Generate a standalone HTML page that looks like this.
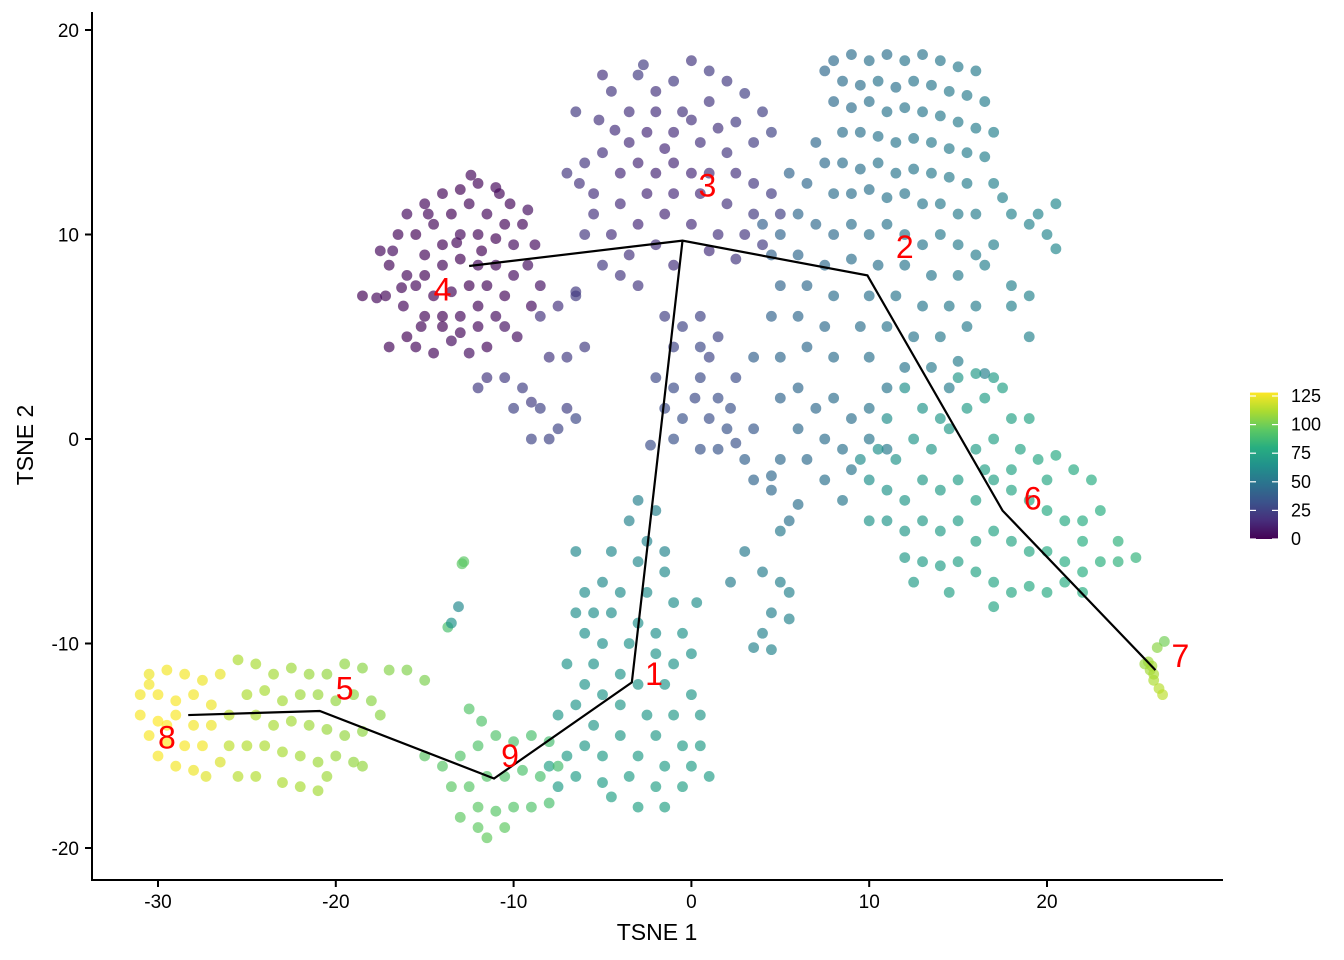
<!DOCTYPE html>
<html><head><meta charset="utf-8"><style>
html,body{margin:0;padding:0;background:#fff}
svg{display:block;font-family:"Liberation Sans",sans-serif}
</style></head><body>
<svg id="chart" width="1344" height="960">
<defs><linearGradient id="vir" x1="0" y1="1" x2="0" y2="0">
<stop offset="0" stop-color="#440154"/><stop offset="0.125" stop-color="#472d7b"/><stop offset="0.25" stop-color="#3b528b"/><stop offset="0.375" stop-color="#2c728e"/><stop offset="0.5" stop-color="#21918c"/><stop offset="0.625" stop-color="#28ae80"/><stop offset="0.75" stop-color="#5ec962"/><stop offset="0.875" stop-color="#addc30"/><stop offset="1" stop-color="#fde725"/></linearGradient></defs>
<g id="points"></g>
<g id="traj"></g>
<g id="labels"></g>
<g id="axes"></g>
<g id="legend"></g>
</svg>
<script>
const xTicks=[-30,-20,-10,0,10,20];
const yTicks=[-20,-10,0,10,20];
const legendTicks=[0,25,50,75,100,125];
const trajPath1=[[-12.5,8.46],[-0.5,9.7],[9.9,8.0],[17.5,-3.5],[26.1,-11.3]];
const trajPath2=[[-0.5,9.7],[-3.35,-11.9],[-11.1,-16.6],[-20.9,-13.3],[-28.3,-13.5]];
const clusterNames=["3","2","4","6","7","1","5","9","8"];
const clusterPos=[[0.9,12.4],[12,9.4],[-14,7.3],[19.2,-2.9],[27.5,-10.6],[-2.1,-11.5],[-19.5,-12.2],[-10.2,-15.5],[-29.5,-14.6]];
const c4=[[-17.5,9.2,3],[-17,8.5,2],[-16.8,9.2,4],[-18.5,7,1],[-17.2,7,2],[-16.2,6.5,3],[-16,5,1],[-17,4.5,2],[-15.5,4.5,3],[-14.5,4.2,2],[-13.5,4.8,4],[-12.5,4.2,5],[-11.5,4.5,3],[-10.5,5.5,6],[-9.8,5,5],[-9,6.5,4],[-8.5,7.5,6],[-9.2,8.5,5],[-8.8,9.5,4],[-9.5,10.5,3],[-10.2,11.5,2],[-11,12.3,3],[-12,12.5,2],[-13,12.2,1],[-14,12,2],[-15,11.5,3],[-16,11,4],[-16.5,10,2],[-15.5,10,1],[-14.5,10.5,2],[-13.5,11,1],[-12.5,11.5,2],[-11.5,11,3],[-10.5,10.5,2],[-10,9.5,4],[-11,9.8,1],[-12,10,2],[-13,10,3],[-14,9.5,1],[-15,9,2],[-16,8,3],[-15,8,1],[-14,8.5,2],[-13,8.8,1],[-12,8.5,3],[-11,8.5,2],[-10,8,4],[-10.5,7,3],[-11.5,7.5,2],[-12.5,7.5,1],[-13.5,7.2,2],[-14.5,7,1],[-15.5,7.5,3],[-15,6,2],[-14,6,1],[-13,6,3],[-12,6.5,2],[-11,6,4],[-12,5.5,3],[-13,5.2,2],[-14,5.5,1],[-15.2,5.5,2],[-14.8,11,3],[-13.2,9.6,2],[-11.8,9.2,1],[-16.3,7.4,2],[-17.7,6.9,3],[-10.8,12,2],[-12.4,12.9,3],[-9.2,11.2,5]];
const c3=[[-5,17.8,18],[-4.5,17,20],[-3,17.8,22],[-2,17,19],[-1,17.5,21],[0,18.5,20],[1,18,22],[2,17.5,21],[-3.5,16,18],[-2,16,17],[-0.5,16,19],[1,16.5,20],[2.5,15.5,22],[4,16,24],[4.5,15,25],[3.5,14.5,23],[2,14,20],[0.5,14.5,18],[-1,15,16],[-2.5,15,15],[-3.5,14.5,16],[-5,14,18],[-6,13.5,20],[-6.3,12.5,19],[-5.5,12,17],[-4,13,15],[-3,13.5,14],[-2,13,13],[-1,13.5,14],[0,13,15],[1,13,16],[2.5,13,18],[3.5,12.5,20],[4.5,12,22],[5,11,24],[3.5,11,21],[2,11.5,19],[0.5,12,16],[-1,12,15],[-2.5,12,14],[-4,11.5,16],[-5.5,11,18],[-6,10,20],[-4.5,10,17],[-3,10.5,15],[-1.5,11,14],[0,10.5,16],[1.5,10,18],[3,10,20],[4,9.5,22],[-2,9.5,17],[-3.5,9,19],[-5,8.5,21],[-1,8.5,18],[2.5,8.8,20],[1,9.2,17],[-6.5,16,21],[-7,13,20],[-2.7,18.3,23],[-4.3,15.1,17],[3,16.9,24],[0,15.6,18],[-3,7.5,20],[-6.5,7,22],[-4,8,20],[-1.5,14.2,15],[1.5,15.2,19],[-5.2,15.6,19],
[-1.5,6,24],[-0.5,5.5,26],[0.5,6,25],[-1,4.5,27],[0.5,4.5,28],[1.5,5,26],[-2,3,28],[-1,2.5,30],[0.5,3,29],[1.5,2,31],[-1.5,1.5,30],[-0.5,1,32],[1,1,31],[2,0.5,33],[-1,0,32],[0.5,-0.5,33],[1.5,-0.5,34],[2.5,-0.2,32],[3.5,0.5,35],[-2.3,-0.3,31],[1,4,27],[2.5,3,30],[0.2,2,29],[2.2,1.5,32],
[-10.5,3,22],[-9.5,2.5,24],[-10,1.5,25],[-9,1.8,23],[-8.5,1.5,25],[-9,0,27],[-8,0,26],[-7.5,0.5,27],[-7,1.5,24],[-6.5,1,28],[-8,4,20],[-7,4,22],[-6,4.5,23],[-11.5,3,20],[-7.5,6.5,18],[-8.5,6,19],[-6.5,7.2,21],[-12,2.5,22]];
const c2=[[8,18.5,45],[9,18.8,46],[10,18.5,48],[11,18.8,47],[12,18.5,50],[13,18.8,49],[14,18.5,51],[15,18.2,52],[16,18,53],[7.5,18,44],[8.5,17.5,46],[9.5,17.3,47],[10.5,17.5,49],[11.5,17.2,48],[12.5,17.5,50],[13.5,17.3,51],[14.5,17,52],[15.5,16.8,53],[16.5,16.5,54],[8,16.5,45],[9,16.2,46],[10,16.5,48],[11,16,49],[12,16.2,50],[13,16,51],[14,15.8,52],[15,15.5,53],[16,15.2,54],[17,15,55],[8.5,15,47],[9.5,15,48],[10.5,14.8,49],[11.5,14.5,50],[12.5,14.7,51],[13.5,14.5,52],[14.5,14.2,53],[15.5,14,54],[16.5,13.8,55],[7,14.5,43],[7.5,13.5,45],[8.5,13.5,47],[9.5,13.2,48],[10.5,13.5,49],[11.5,13,50],[12.5,13.2,51],[13.5,13,52],[14.5,12.8,53],[15.5,12.5,54],[17,12.5,56],[5.5,13,42],[6.5,12.5,43],[8,12,46],[9,12,47],[10,12.2,48],[11,11.8,49],[12,12,50],[13,11.5,51],[14,11.5,52],[15,11,53],[16,11,54],[17.5,11.8,56],[18,11,57],[19.5,11,58],[20.5,11.5,59],[19,10.5,57],
[4,10.5,40],[5,10,42],[6,11,43],[7,10.5,44],[8,10,45],[9,10.5,47],[10,10,48],[11,10.5,49],[12,10,50],[13,9.5,51],[14,10,52],[15,9.5,53],[16,9,54],[17,9.5,55],[20,10,58],[20.5,9.3,59],[4.5,9,41],[6,9,43],[7.5,8.5,45],[9,8.8,47],[10.5,8.5,48],[12,8.5,50],[13.5,8,51],[15,8,53],[16.5,8.5,55],[18,7.5,56],[19,7,57],[5,7.5,42],[6.5,7.5,44],[8,7,46],[10,7,48],[11.5,7,50],[13,6.5,51],[14.5,6.5,52],[16,6.5,54],[4.5,6,41],[6,6,43],[7.5,5.5,45],[9.5,5.5,47],[11,5.5,49],[12.5,5,50],[14,5,52],[15.5,5.5,53],[18,6.5,56],[19,5,57],[6.5,4.5,44],[8,4,46],[10,4,48],[12,3.5,50],[13.5,3.5,52],[15,3.8,54],[16.5,3.2,55],[5,4,43],[3.5,4,40],[11,2.5,50],[14.5,2.5,54],
[5,2,42],[6,2.5,43],[7,1.5,44],[8,2,46],[9,1,47],[10,1.5,49],[6,0.5,44],[7.5,0,46],[8.5,-0.5,48],[10,0,50],[11,-0.5,52],[6.5,-1,45],[5,-1,44],[4.5,-1.8,43],[3,-1,40],[3.5,-2,42],[4.5,-2.5,44],[6,-3.2,47],[7.5,-2,48],[9,-1.5,50],[5.5,-4,48],[8.5,-3,51]];
const c6=[[9.5,-1,62],[10.5,-0.5,64],[11.5,-1,66],[12.5,0,67],[13.5,-0.5,68],[14.5,0.5,69],[15.5,1.5,70],[16.5,2,71],[17.5,2.5,72],[15,3,68],[16,3.2,69],[17,3,70],[18,1,73],[19,1,74],[16,-0.5,71],[17,0,72],[18.5,-0.5,74],[19.5,-1,76],[20.5,-0.8,77],[21.5,-1.5,78],[22.5,-2,79],[10,-2,64],[11,-2.5,66],[12,-3,68],[13,-2,69],[14,-2.5,70],[15,-2,71],[16,-3,72],[17,-2,73],[18,-2.5,75],[19,-3,76],[20,-3.5,77],[21,-4,78],[22,-4,79],[23,-3.5,80],[10,-4,66],[11,-4,67],[12,-4.5,68],[13,-4,69],[14,-4.5,70],[15,-4,71],[16,-5,73],[17,-4.5,74],[18,-5,75],[19,-5.5,76],[20,-5.5,78],[21,-6,79],[22,-6.5,80],[23,-6,81],[24,-6,82],[25,-5.8,83],[12,-5.8,69],[13,-6,70],[14,-6.2,71],[15,-6,72],[16,-6.5,74],[17,-7,75],[18,-7.5,76],[19,-7.2,77],[20,-7.5,78],[21,-7,79],[22,-7.5,80],[12.5,-7,70],[14.5,-7.5,72],[17,-8.2,75],[13,1.5,66],[12,2.5,64],[11,1,63],[20,-2,76],[22,-5,80],[24,-5,82],[18,-1.5,74],[16.5,-1.5,72],[14,1,68]];
const c7=[[25.5,-11,108],[25.8,-11.3,110],[26,-11.8,112],[26.3,-12.2,114],[26.5,-12.5,115],[26,-11.5,111],[25.7,-10.9,109],[26.2,-10.2,105],[26.6,-9.9,100],[25.9,-11.1,110]];
const c1=[[-3,-3,55],[-2,-3.5,56],[-3.5,-4,57],[-2.5,-5,58],[-1.5,-5.5,58],[-4.5,-5.5,60],[-3,-6,60],[-1.5,-6.5,61],[-5,-7,61],[-4,-7.5,62],[-2.5,-7.5,62],[-1,-8,63],[-6,-7.5,62],[-6.5,-8.5,63],[-5.5,-8.5,63],[-4.5,-8.5,63],[-3,-9,64],[-2,-9.5,64],[-0.5,-9.5,65],[-6,-9.5,64],[-5,-10,64],[-3.5,-10,65],[-2,-10.5,66],[-1,-11,66],[0,-10.5,65],[-5.5,-11,65],[-4,-11.5,66],[-3,-12,67],[-1.5,-12,67],[0,-12.5,68],[-6,-12,66],[-5,-12.5,67],[-6.5,-13,67],[-4,-13,68],[-2.5,-13.5,68],[-1,-13.5,69],[0.5,-13.5,68],[-5.5,-14,68],[-4,-14.5,69],[-2,-14.5,69],[-0.5,-15,70],[0.5,-15,70],[-6,-15,69],[-5,-15.5,70],[-3,-15.5,70],[-1.5,-16,71],[0,-16,71],[1,-16.5,71],[-7,-15.5,70],[-6.5,-16.5,71],[-5,-16.8,71],[-3.5,-16.5,71],[-2,-17,72],[-0.5,-17,72],[-4.5,-17.5,72],[-3,-18,73],[-1.5,-18,73],[-7.5,-17,71],[-8,-16,72],[0.3,-8,63],[-7,-11,66],[-7.5,-13.5,68],[-6.5,-5.5,60],
[3,-5.5,52],[4,-6.5,54],[5,-7,55],[5.5,-7.5,56],[4.5,-8.5,55],[5.5,-8.8,57],[4,-9.5,56],[3.5,-10.2,57],[4.5,-10.3,58],[2.2,-7,54],[5,-4.5,52]];
const c9=[[-15,-15.5,95],[-14,-16,94],[-13,-15.5,93],[-12,-15,92],[-11,-14.5,92],[-10,-14.8,91],[-9,-14.5,90],[-8,-14.8,89],[-13.5,-17,95],[-12.5,-17,94],[-11.5,-16.5,93],[-10.5,-16.5,92],[-9.5,-16.2,91],[-8.5,-16.5,90],[-7.5,-16,89],[-12,-18,95],[-11,-18.2,94],[-10,-18,93],[-9,-18,92],[-12,-19,96],[-11.5,-19.5,97],[-10.5,-19,96],[-12.5,-13.2,93],[-11.8,-13.8,92],[-8,-17.8,90],[-13,-18.5,96],
[-12.8,-6,95],[-12.9,-6.1,95],[-13.1,-8.2,60],[-13.7,-9.2,90],[-13.5,-9,65]];
const c5=[[-25.5,-10.8,112],[-24.5,-11,111],[-23.5,-11.5,110],[-22.5,-11.2,109],[-21.5,-11.5,108],[-20.5,-11.5,107],[-19.5,-11,106],[-18.5,-11.2,105],[-17,-11.3,104],[-16,-11.3,103],[-15,-11.8,102],[-25,-12.5,112],[-24,-12.3,111],[-23,-12.8,110],[-22,-12.5,109],[-21,-12.5,108],[-20,-12.8,107],[-19,-12.5,106],[-18,-12.8,105],[-24.5,-13.5,112],[-23.5,-14,111],[-22.5,-13.8,110],[-21.5,-14,109],[-20.5,-14.2,108],[-19.5,-14.5,107],[-18.5,-14.3,106],[-25,-15,113],[-24,-15,112],[-23,-15.3,111],[-22,-15.5,110],[-21,-15.8,109],[-20,-15.5,108],[-19,-15.8,107],[-25.5,-16.5,114],[-24.5,-16.5,113],[-23,-16.8,112],[-22,-17,111],[-21,-17.2,110],[-20.5,-16.5,109],[-18.5,-16,107],[-17.5,-13.5,105],[-26,-13.5,115],[-26,-15,115]];
const c8=[[-30.5,-11.5,125],[-29.5,-11.3,126],[-28.5,-11.5,126],[-27.5,-11.8,125],[-26.5,-11.5,124],[-31,-12.5,126],[-30,-12.5,127],[-29,-12.8,127],[-28,-12.5,126],[-27,-13,125],[-31,-13.5,127],[-30,-13.8,128],[-29,-13.5,127],[-28,-14,126],[-27,-14,125],[-30.5,-14.5,127],[-29.5,-14.8,128],[-28.5,-15,127],[-27.5,-15,126],[-30,-15.5,127],[-29,-16,126],[-28,-16.2,125],[-30.5,-12,126],[-29.5,-14,128],[-27.3,-16.5,122],[-26.5,-15.8,121]];

const NS='http://www.w3.org/2000/svg';
const X=v=>691.4+v*17.78, Y=v=>439-v*20.45;
const L=v=>539-v*1.144;
const vir=[[68,1,84],[71,45,123],[59,82,139],[44,114,142],[33,145,140],[40,174,128],[94,201,98],[173,220,48],[253,231,37]];
function col(t){let f=Math.max(0,Math.min(1,t/128))*8,i=Math.min(7,Math.floor(f)),r=f-i,a=vir[i],b=vir[i+1];
return 'rgb('+a.map((c,k)=>Math.round(c+(b[k]-c)*r)).join(',')+')';}
function mk(tag,at,parent){const e=document.createElementNS(NS,tag);for(const k in at)e.setAttribute(k,at[k]);parent.appendChild(e);return e;}
const gp=document.getElementById('points');
[c4,c3,c2,c6,c7,c1,c9,c5,c8].forEach(arr=>arr.forEach(p=>{
 const c=mk('circle',{cx:X(p[0]),cy:Y(p[1]),r:5.4,fill:col(p[2]),'fill-opacity':0.68},gp);
 
 
}));
const gt=document.getElementById('traj');
[trajPath1,trajPath2].forEach(pth=>{
 const pl=mk('polyline',{points:pth.map(p=>X(p[0])+','+Y(p[1])).join(' '),fill:'none',stroke:'#000','stroke-width':2.2},gt);
 
 
});
const gl=document.getElementById('labels');
clusterNames.forEach((n,i)=>{
 const t=mk('text',{x:X(clusterPos[i][0]),y:Y(clusterPos[i][1]),fill:'#ff0000','font-size':32,'text-anchor':'middle','dominant-baseline':'central'},gl);
 t.textContent=n;
 
 
});
const ga=document.getElementById('axes');
mk('line',{x1:92,y1:12,x2:92,y2:881,stroke:'#000','stroke-width':2},ga);
mk('line',{x1:91,y1:880,x2:1223,y2:880,stroke:'#000','stroke-width':2},ga);
xTicks.forEach(v=>{mk('line',{x1:X(v),y1:880,x2:X(v),y2:887,stroke:'#000','stroke-width':2},ga);
 const t=mk('text',{x:X(v),y:908,'font-size':19,'text-anchor':'middle',fill:'#000'},ga);t.textContent=v;
 
 });
yTicks.forEach(v=>{mk('line',{x1:85,y1:Y(v),x2:92,y2:Y(v),stroke:'#000','stroke-width':2},ga);
 const t=mk('text',{x:79,y:Y(v)+7,'font-size':19,'text-anchor':'end',fill:'#000'},ga);t.textContent=v;
 
 });
const xt=mk('text',{x:657,y:940,'font-size':23,'text-anchor':'middle',fill:'#000'},ga);xt.textContent='TSNE 1';


const yt=mk('text',{x:33,y:445,'font-size':23,'text-anchor':'middle',fill:'#000',transform:'rotate(-90 33 445)'},ga);yt.textContent='TSNE 2';


const lg=document.getElementById('legend');
const bar=mk('rect',{x:1250,y:L(128),width:28,height:L(0)-L(128),fill:'url(#vir)'},lg);


legendTicks.forEach(v=>{mk('line',{x1:1250,y1:L(v),x2:1256,y2:L(v),stroke:'#fff','stroke-width':1.2},lg);
 mk('line',{x1:1272,y1:L(v),x2:1278,y2:L(v),stroke:'#fff','stroke-width':1.2},lg);
 const t=mk('text',{x:1291,y:L(v)+6,'font-size':18,fill:'#000'},lg);t.textContent=v;
 
 });
</script>
</body></html>
